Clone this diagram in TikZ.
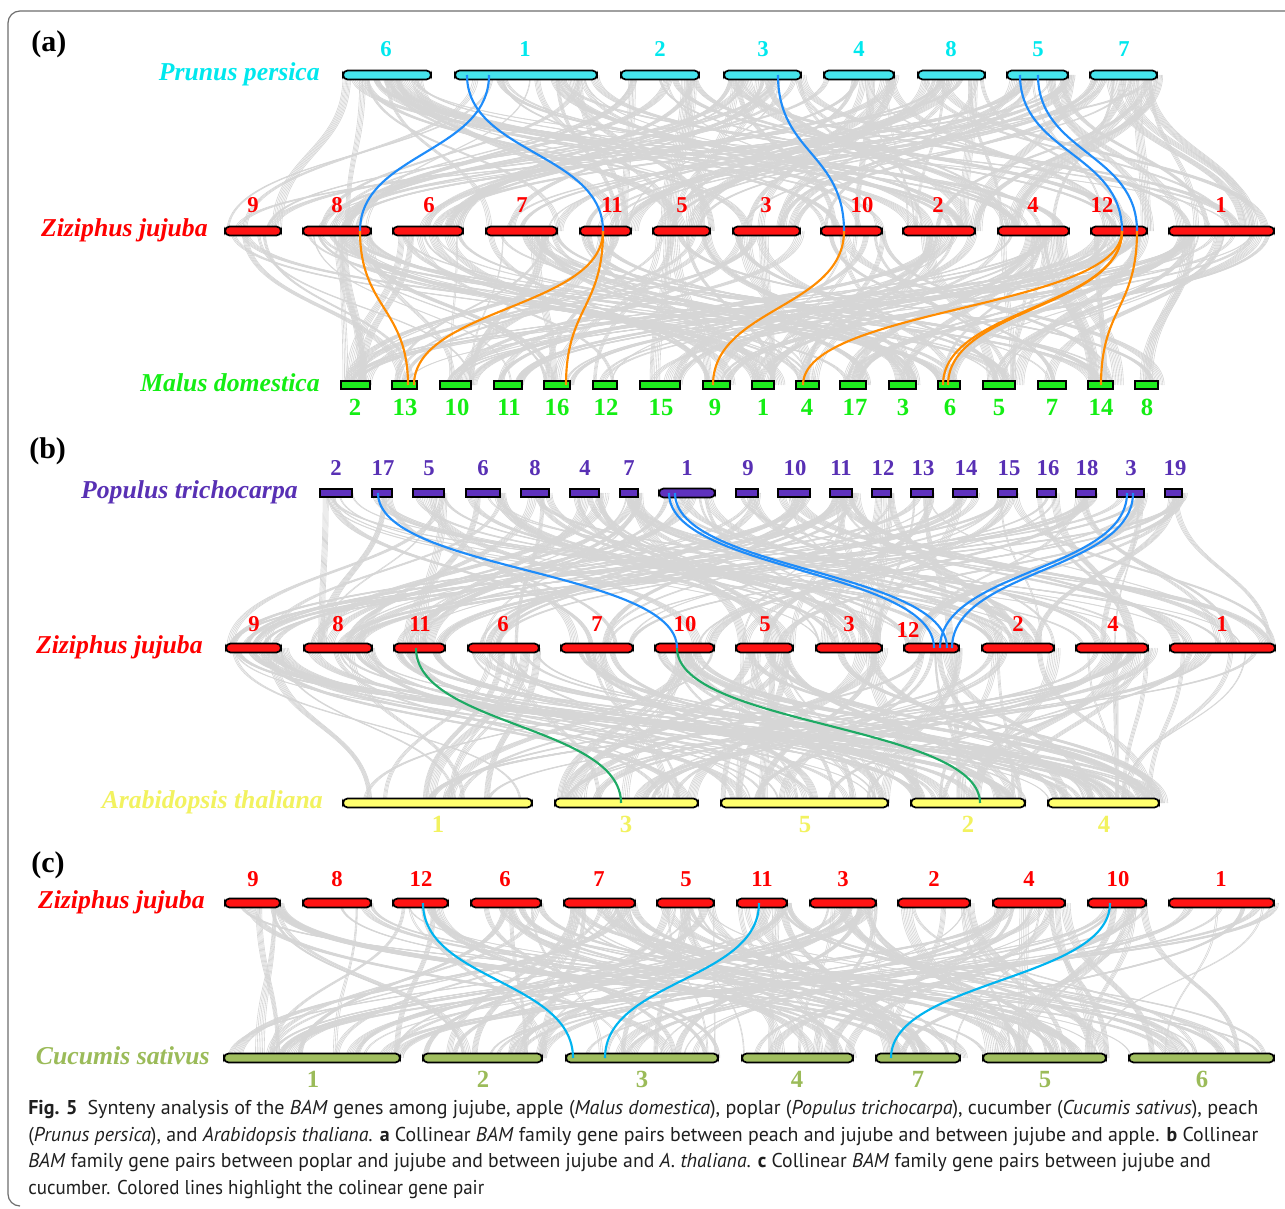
\documentclass[tikz,border=0pt]{standalone}
\usepackage{fontspec}
\usepackage{graphicx}
\setmainfont{Liberation Serif}
\newfontfamily\capfont{PT Sans}
\usetikzlibrary{calc,fit}

\definecolor{ppT}{RGB}{0,232,238}
\definecolor{ppF}{RGB}{70,228,236}
\definecolor{zjT}{RGB}{255,0,0}
\definecolor{zjF}{RGB}{255,20,20}
\definecolor{mdT}{RGB}{20,238,20}
\definecolor{mdF}{RGB}{30,235,30}
\definecolor{ptT}{RGB}{88,48,180}
\definecolor{ptF}{RGB}{95,50,190}
\definecolor{atT}{RGB}{242,242,95}
\definecolor{atF}{RGB}{255,255,110}
\definecolor{csT}{RGB}{155,187,89}
\definecolor{csF}{RGB}{160,190,95}
\definecolor{lnB}{RGB}{30,140,250}
\definecolor{lnO}{RGB}{255,140,0}
\definecolor{lnG}{RGB}{30,170,100}
\definecolor{lnC}{RGB}{0,180,240}
\definecolor{lnGray}{RGB}{214,214,214}
\definecolor{frameC}{RGB}{110,110,110}

\newsavebox\capbox
\newcommand\fitline[2]{\sbox\capbox{#2}\pgfmathsetmacro\capr{#1/\the\wd\capbox}\scalebox{\capr}[1]{\usebox\capbox}}

\newcommand\synline[3]{\path ($(#2)!0.5!(#3)$) coordinate (synmid);
  \draw[#1] (#2) .. controls (#2 |- synmid) and (#3 |- synmid) .. (#3);}

% gray background links: #1 top starts, #2 top ends, #3 top count, #4 top y,
% #5 bottom starts, #6 bottom ends, #7 bottom count, #8 bottom y, #9 bundles
\newcommand\bundles[9]{%
  \pgfmathsetmacro\ymid{(#4+#8)/2}%
  \foreach \b in {1,...,#9}{%
    \pgfmathrandominteger{\ka}{0}{#3-1}%
    \pgfmathrandominteger{\kb}{0}{#7-1}%
    \pgfmathsetmacro\xa{#1[\ka]+rnd*(#2[\ka]-#1[\ka])}%
    \pgfmathsetmacro\xb{#5[\kb]+rnd*(#6[\kb]-#5[\kb])}%
    \pgfmathsetmacro\sa{0.6+1.2*rnd}%
    \pgfmathsetmacro\sb{0.6+1.2*rnd}%
    \pgfmathrandominteger{\nl}{1}{7}%
    \foreach \j in {0,...,\nl}{%
      \draw[grayln] (\xa+\sa*\j,#4) .. controls (\xa+\sa*\j,\ymid) and (\xb+\sb*\j,\ymid) .. (\xb+\sb*\j,#8);
    }%
  }%
}

\def\PPs{{343,455,621,724,824,918,1007,1090}}
\def\PPe{{431,597,699,801,894,985,1068,1157}}
\def\ZAs{{225,303,393,486,580,653,733,821,903,998,1091,1169}}
\def\ZAe{{281,371,463,557,631,710,800,882,975,1069,1147,1274}}
\def\MDs{{341,392,440,494,544,593,640,703,752,796,840,889,938,983,1038,1088,1135}}
\def\MDe{{370,417,471,522,570,617,680,730,774,819,866,916,960,1015,1066,1113,1158}}
\def\PTs{{320,372,413,466,521,570,620,659,736,778,830,872,911,953,998,1037,1076,1117,1165}}
\def\PTe{{352,392,444,500,549,599,638,715,758,810,852,891,933,977,1017,1056,1096,1144,1182}}
\def\ZBs{{226,304,394,468,561,655,736,816,904,982,1076,1170}}
\def\ZBe{{281,372,445,539,633,714,793,882,959,1054,1148,1275}}
\def\ATs{{343,555,721,911,1048}}
\def\ATe{{532,698,888,1025,1159}}
\def\ZCs{{225,303,393,471,564,657,737,810,898,993,1088,1169}}
\def\ZCe{{280,371,448,541,635,714,787,876,970,1065,1146,1274}}
\def\CSs{{224,423,566,742,876,983,1129}}
\def\CSe{{400,542,718,853,960,1106,1274}}

\tikzset{
  pill/.style={draw=black, line width=1.3pt, rounded corners=3.4pt, inner sep=0pt, outer sep=0pt},
  boxchr/.style={draw=black, line width=1.3pt, inner sep=0pt, outer sep=0pt},
  numlab/.style={font=\fontsize{17}{17}\selectfont\bfseries, anchor=base, inner sep=0pt},
  numlabB/.style={font=\fontsize{18.5}{19}\selectfont\bfseries, anchor=base, inner sep=0pt},
  species/.style={font=\fontsize{19.3}{20}\selectfont\bfseries\itshape, anchor=base east, inner sep=0pt},
  panel/.style={font=\fontsize{22.5}{23}\selectfont\bfseries, anchor=base west, inner sep=0pt},
  grayln/.style={draw=lnGray, line width=0.45pt},
  hl/.style={line width=1.6pt},
  capnode/.style={anchor=base west, inner sep=0pt, font=\capfont\fontsize{15}{17}\selectfont, text=black!88}
}

\begin{document}
\begin{tikzpicture}[x=0.75pt,y=-0.75pt]
\useasboundingbox (0,0) rectangle (1285,1209);
\fill[white] (0,0) rectangle (1285,1209);

% frame
\draw[frameC, line width=0.9pt] (1285,11) -- (20,11) arc[start angle=90,end angle=180,radius=9pt]
  -- (8,1194) arc[start angle=180,end angle=270,radius=9pt];

% gray links
\pgfmathsetseed{4711}
\bundles{\PPs}{\PPe}{8}{75}{\ZAs}{\ZAe}{12}{231}{130}
\bundles{\ZAs}{\ZAe}{12}{231}{\MDs}{\MDe}{17}{385}{150}
\bundles{\PTs}{\PTe}{19}{493}{\ZBs}{\ZBe}{12}{648}{130}
\bundles{\ZBs}{\ZBe}{12}{648}{\ATs}{\ATe}{5}{803}{130}
\bundles{\ZCs}{\ZCe}{12}{903}{\CSs}{\CSe}{7}{1058}{140}

% ---------------- panel (a)
\node[panel] (pa) at (31,52) {(a)};
\node[species, text=ppT] (spPP) at (320,81) {Prunus persica};
\node[species, text=zjT] (spZA) at (208,236) {Ziziphus jujuba};
\node[species, text=mdT] (spMD) at (320,391) {Malus domestica};

\foreach \s/\e/\l/\lx in {343/431/6/386, 455/597/1/525, 621/699/2/660, 724/801/3/763, 824/894/4/859, 918/985/8/951, 1007/1068/5/1038, 1090/1157/7/1124}{
  \node[pill, fill=ppF, fit={(\s,70.5)(\e,79.5)}] (pp\l) {};
  \node[numlab, text=ppT] (ppl\l) at (\lx,57) {\l};
}
\foreach \s/\e/\l/\lx in {225/281/9/253, 303/371/8/337, 393/463/6/429, 486/557/7/522, 580/631/11/612, 653/710/5/682, 733/800/3/766, 821/882/10/862, 903/975/2/938, 998/1069/4/1033, 1091/1147/12/1102, 1169/1274/1/1221}{
  \node[pill, fill=zjF, fit={(\s,226.5)(\e,235.5)}] (za\l) {};
  \node[numlab, text=zjT] (zal\l) at (\lx,213) {\l};
}
\foreach \s/\e/\l/\lx in {341/370/2/355, 392/417/13/405, 440/471/10/457, 494/522/11/509, 544/570/16/557, 593/617/12/606, 640/680/15/661, 703/730/9/715, 752/774/1/763, 796/819/4/807, 840/866/17/855, 889/916/3/903, 938/960/6/950, 983/1015/5/999, 1038/1066/7/1052, 1088/1113/14/1101, 1135/1158/8/1147}{
  \node[boxchr, fill=mdF, fit={(\s,381)(\e,389)}] (md\l) {};
  \node[numlabB, text=mdT] (mdl\l) at (\lx,415) {\l};
}

% highlighted pairs (a)
\coordinate (a1t) at (489,75);  \coordinate (a1b) at (360,231);
\coordinate (a2t) at (467,75);  \coordinate (a2b) at (603,231);
\coordinate (a3t) at (778,75);  \coordinate (a3b) at (844,231);
\coordinate (a4t) at (1020,75); \coordinate (a4b) at (1122,231);
\coordinate (a5t) at (1038,75); \coordinate (a5b) at (1137,231);
\coordinate (m1) at (408,385); \coordinate (m2) at (414,385); \coordinate (m3) at (566,385);
\coordinate (m4) at (713,385); \coordinate (m5) at (803,385); \coordinate (m6) at (943,385);
\coordinate (m7) at (948,385); \coordinate (m8) at (1101,385);
\synline{hl,lnB}{a1t}{a1b}
\synline{hl,lnB}{a2t}{a2b}
\synline{hl,lnB}{a3t}{a3b}
\synline{hl,lnB}{a4t}{a4b}
\synline{hl,lnB}{a5t}{a5b}
\synline{hl,lnO}{a1b}{m1}
\synline{hl,lnO}{a2b}{m2}
\synline{hl,lnO}{a2b}{m3}
\synline{hl,lnO}{a3b}{m4}
\synline{hl,lnO}{a4b}{m5}
\synline{hl,lnO}{a4b}{m6}
\synline{hl,lnO}{a4b}{m7}
\synline{hl,lnO}{a5b}{m8}

% ---------------- panel (b)
\node[panel] (pb) at (29,458) {(b)};
\node[species, text=ptT] (spPT) at (298,498) {Populus trichocarpa};
\node[species, text=zjT] (spZB) at (203,653) {Ziziphus jujuba};
\node[species, text=atT] (spAT) at (323,808) {Arabidopsis thaliana};

\foreach \s/\e/\l/\lx in {320/352/2/336, 372/392/17/383, 413/444/5/429, 466/500/6/483, 521/549/8/535, 570/599/4/585, 620/638/7/629, 736/758/9/748, 778/810/10/795, 830/852/11/841, 872/891/12/883, 911/933/13/923, 953/977/14/966, 998/1017/15/1009, 1037/1056/16/1048, 1076/1096/18/1087, 1117/1144/3/1131, 1165/1182/19/1175}{
  \node[boxchr, fill=ptF, fit={(\s,489)(\e,497)}] (pt\l) {};
  \node[numlab, text=ptT] (ptl\l) at (\lx,475) {\l};
}
\node[pill, fill=ptF, fit={(659,488.5)(715,497.5)}] (pt1) {};
\node[numlab, text=ptT] (ptl1) at (687,475) {1};

\foreach \s/\e/\l/\lx/\ly in {226/281/9/254/631, 304/372/8/338/631, 394/445/11/420/631, 468/539/6/503/631, 561/633/7/597/631, 655/714/10/685/631, 736/793/5/765/631, 816/882/3/849/631, 904/959/12/908/637, 982/1054/2/1018/631, 1076/1148/4/1113/631, 1170/1275/1/1222/631}{
  \node[pill, fill=zjF, fit={(\s,643.5)(\e,652.5)}] (zb\l) {};
  \node[numlab, text=zjT] (zbl\l) at (\lx,\ly) {\l};
}
\foreach \s/\e/\l/\lx in {343/532/1/438, 555/698/3/626, 721/888/5/805, 911/1025/2/968, 1048/1159/4/1104}{
  \node[pill, fill=atF, fit={(\s,798.5)(\e,807.5)}] (at\l) {};
  \node[numlabB, text=atT] (atl\l) at (\lx,832) {\l};
}

\coordinate (b1t) at (378,493);  \coordinate (b1b) at (677,648);
\coordinate (b2t) at (669,493);  \coordinate (b2b) at (934,648);
\coordinate (b3t) at (675,493);  \coordinate (b3b) at (947,648);
\coordinate (b4t) at (1127,493); \coordinate (b4b) at (940,648);
\coordinate (b5t) at (1133,493); \coordinate (b5b) at (952,648);
\coordinate (g1t) at (416,648);  \coordinate (g1b) at (621,803);
\coordinate (g2b) at (980,803);
\synline{hl,lnB}{b1t}{b1b}
\synline{hl,lnB}{b2t}{b2b}
\synline{hl,lnB}{b3t}{b3b}
\synline{hl,lnB}{b4t}{b4b}
\synline{hl,lnB}{b5t}{b5b}
\synline{hl,lnG}{g1t}{g1b}
\synline{hl,lnG}{b1b}{g2b}

% ---------------- panel (c)
\node[panel] (pc) at (31,872) {(c)};
\node[species, text=zjT] (spZC) at (205,908) {Ziziphus jujuba};
\node[species, text=csT] (spCS) at (210,1064) {Cucumis sativus};

\foreach \s/\e/\l/\lx in {225/280/9/253, 303/371/8/337, 393/448/12/421, 471/541/6/505, 564/635/7/599, 657/714/5/686, 737/787/11/762, 810/876/3/843, 898/970/2/934, 993/1065/4/1029, 1088/1146/10/1118, 1169/1274/1/1221}{
  \node[pill, fill=zjF, fit={(\s,898.5)(\e,907.5)}] (zc\l) {};
  \node[numlab, text=zjT] (zcl\l) at (\lx,886) {\l};
}
\foreach \s/\e/\l/\lx in {224/400/1/313, 423/542/2/483, 566/718/3/642, 742/853/4/797, 876/960/7/918, 983/1106/5/1045, 1129/1274/6/1202}{
  \node[pill, fill=csF, fit={(\s,1053.5)(\e,1062.5)}] (cs\l) {};
  \node[numlabB, text=csT] (csl\l) at (\lx,1087) {\l};
}

\coordinate (c1t) at (423,903);  \coordinate (c1b) at (573,1058);
\coordinate (c2t) at (759,903);  \coordinate (c2b) at (605,1058);
\coordinate (c3t) at (1110,903); \coordinate (c3b) at (891,1058);
\synline{hl,lnC}{c1t}{c1b}
\synline{hl,lnC}{c2t}{c2b}
\synline{hl,lnC}{c3t}{c3b}

% ---------------- caption
\node[capnode] (cap1) at (28,1114) {\fitline{922.5}{\textbf{Fig. 5}\enspace Synteny analysis of the \textit{BAM} genes among jujube, apple (\textit{Malus domestica}), poplar (\textit{Populus trichocarpa}), cucumber (\textit{Cucumis sativus}), peach}};
\node[capnode] (cap2) at (28,1141) {\fitline{922.5}{(\textit{Prunus persica}), and \textit{Arabidopsis thaliana}. \textbf{a} Collinear \textit{BAM} family gene pairs between peach and jujube and between jujube and apple. \textbf{b} Collinear}};
\node[capnode] (cap3) at (28,1167) {\fitline{887}{\textit{BAM} family gene pairs between poplar and jujube and between jujube and \textit{A. thaliana}. \textbf{c} Collinear \textit{BAM} family gene pairs between jujube and}};
\node[capnode] (cap4) at (28,1194) {\fitline{342}{cucumber. Colored lines highlight the colinear gene pair}};
\end{tikzpicture}
\end{document}
